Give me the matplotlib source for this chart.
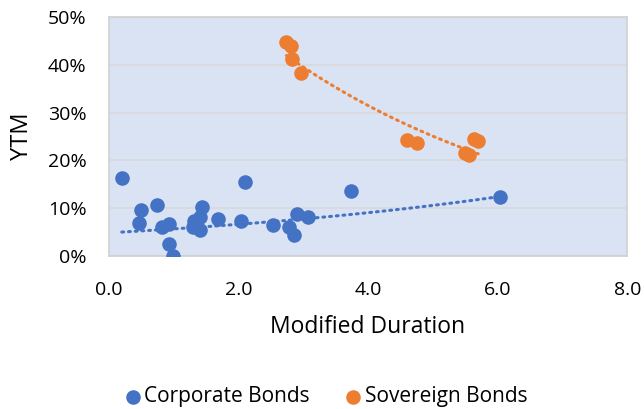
import matplotlib.pyplot as plt
from matplotlib.ticker import FuncFormatter
import numpy as np

plt.rcParams['font.family'] = ['Open Sans', 'DejaVu Sans']

# Corporate bonds: modified duration vs yield to maturity
corp_duration = [0.20, 0.50, 0.47, 0.74, 0.82, 0.93, 0.93, 0.99, 1.43, 1.31, 1.40,
                 1.30, 1.41, 1.69, 2.04, 2.10, 2.54, 2.78, 2.90, 2.86, 3.07, 3.73, 6.03]
corp_ytm = [0.163, 0.096, 0.069, 0.106, 0.061, 0.068, 0.026, 0.001, 0.102, 0.073, 0.082,
            0.060, 0.054, 0.078, 0.074, 0.154, 0.066, 0.060, 0.088, 0.044, 0.081, 0.136, 0.124]

# Sovereign bonds
sov_duration = [2.74, 2.81, 2.82, 2.97, 4.60, 4.75, 5.50, 5.56, 5.64, 5.70]
sov_ytm = [0.447, 0.439, 0.412, 0.383, 0.243, 0.236, 0.215, 0.212, 0.246, 0.240]

blue = '#4472C4'
orange = '#ED7D31'


def exp_trend(x, y):
    # exponential trendline y = a * exp(b x), fitted on log(y)
    b, lna = np.polyfit(x, np.log(y), 1)
    xs = np.linspace(min(x), max(x), 100)
    return xs, np.exp(lna) * np.exp(b * xs)


fig = plt.figure(figsize=(6.44, 4.09), dpi=100)
ax = fig.add_axes([0.169, 0.374, 0.805, 0.584])
ax.set_facecolor('#DAE3F3')

dots = dict(lw=2.2, ls=(0, (0.6, 1.6)), dash_capstyle='round', zorder=2)
cx, cy = exp_trend(corp_duration, corp_ytm)
ax.plot(cx, cy, color=blue, **dots)
sx, sy = exp_trend(sov_duration, sov_ytm)
ax.plot(sx, sy, color=orange, **dots)

ax.scatter(corp_duration, corp_ytm, s=110, color=blue, label='Corporate Bonds',
           zorder=3, linewidths=0)
ax.scatter(sov_duration, sov_ytm, s=110, color=orange, label='Sovereign Bonds',
           zorder=3, linewidths=0)

ax.set_xlim(0, 8)
ax.set_ylim(0, 0.5)
ax.set_xticks([0, 2, 4, 6, 8])
ax.set_yticks(np.arange(0, 0.51, 0.1))
ax.xaxis.set_major_formatter(FuncFormatter(lambda v, p: f'{v:.1f}'))
ax.yaxis.set_major_formatter(FuncFormatter(lambda v, p: f'{v*100:.0f}%'))
ax.tick_params(length=0, labelsize=14, colors='#000000')
ax.tick_params(axis='x', pad=18)
ax.tick_params(axis='y', pad=16)
ax.grid(axis='y', color='#D9D9D9', lw=1.2)
ax.set_axisbelow(True)
for sp in ax.spines.values():
    sp.set_color('#D0D0D0')
    sp.set_linewidth(1.2)

ax.set_xlabel('Modified Duration', fontsize=16.5, va='center')
ax.xaxis.set_label_coords(0.5, -0.297)
ax.set_ylabel('YTM', fontsize=17, va='center')
ax.yaxis.set_label_coords(-0.168, 0.5)

fig.legend(loc='center', bbox_to_anchor=(0.506, 0.03), ncol=2, frameon=False,
           fontsize=15, handletextpad=0.15, handlelength=0.8, columnspacing=1.7,
           scatterpoints=1)

plt.savefig('out.png')
